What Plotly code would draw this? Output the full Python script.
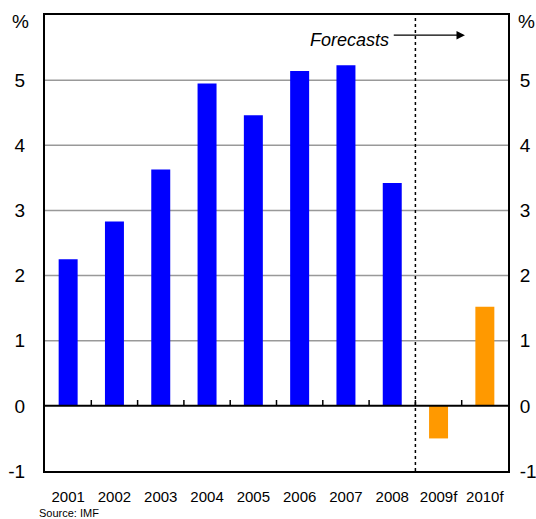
import plotly.graph_objects as go

years = ["2001", "2002", "2003", "2004", "2005", "2006", "2007", "2008", "2009f", "2010f"]
growth = [2.25, 2.83, 3.63, 4.95, 4.46, 5.14, 5.23, 3.42, -0.5, 1.52]
colors = ["#0000FF"] * 8 + ["#FF9900"] * 2
y_ticks = [-1, 0, 1, 2, 3, 4, 5]
y_tick_text = ["-1", "0", "1", "2", "3", "4", "5"]

FONT = "Liberation Sans, Arial, sans-serif"

fig = go.Figure()
fig.add_trace(go.Bar(x=list(range(len(years))), y=growth, marker=dict(color=colors, line=dict(width=0)),
                     showlegend=False))
fig.add_trace(go.Scatter(x=[0], y=[None], yaxis="y2", showlegend=False, hoverinfo="skip"))

shapes = []
for v in [1, 2, 3, 4, 5]:
    shapes.append(dict(type="line", xref="paper", x0=0, x1=1, yref="y", y0=v, y1=v,
                       line=dict(color="#999999", width=1.5), layer="below"))
shapes.append(dict(type="line", xref="paper", x0=0, x1=1, yref="y", y0=0, y1=0,
                   line=dict(color="black", width=2)))
for i in range(len(years) - 1):
    shapes.append(dict(type="line", xref="x", x0=i + 0.5, x1=i + 0.5, yref="y", y0=0, y1=0.09,
                       line=dict(color="black", width=1.5)))
shapes.append(dict(type="line", xref="x", x0=7.5, x1=7.5, yref="paper", y0=0, y1=1,
                   line=dict(color="black", width=1.5, dash="dot")))

fig.update_layout(
    width=536, height=519,
    margin=dict(l=45, r=28, t=15, b=48, autoexpand=False),
    paper_bgcolor="white", plot_bgcolor="white",
    bargap=0.59,
    font=dict(family=FONT, color="black"),
    shapes=shapes,
    xaxis=dict(range=[-0.5, 9.5], tickmode="array", tickvals=list(range(len(years))), ticktext=years,
               showgrid=False, zeroline=False, showline=True, linecolor="black", linewidth=2, mirror=True,
               ticks="outside", ticklen=11, tickcolor="rgba(0,0,0,0)", tickfont=dict(size=15, family=FONT),
               automargin=False),
    yaxis=dict(range=[-1, 6], tickvals=y_ticks, ticktext=y_tick_text, showgrid=False, zeroline=False,
               showline=True, linecolor="black", linewidth=2, automargin=False,
               ticks="outside", ticklen=14, tickcolor="rgba(0,0,0,0)", tickfont=dict(size=19, family=FONT)),
    yaxis2=dict(range=[-1, 6], tickvals=y_ticks, ticktext=y_tick_text, overlaying="y", side="right",
                showgrid=False, zeroline=False, showline=True, linecolor="black", linewidth=2, automargin=False,
                ticks="outside", ticklen=6, tickcolor="rgba(0,0,0,0)", tickfont=dict(size=19, family=FONT)),
    annotations=[
        dict(text="%", xref="paper", yref="paper", x=-0.03, y=0.985, xanchor="right", yanchor="middle",
             showarrow=False, font=dict(size=19)),
        dict(text="%", xref="paper", yref="paper", x=1.018, y=0.985, xanchor="left", yanchor="middle",
             showarrow=False, font=dict(size=19)),
        dict(text="<i>Forecasts</i>", xref="x", yref="y", x=6.98, y=5.62, xanchor="right", yanchor="middle",
             showarrow=False, font=dict(size=18)),
        dict(text="", xref="x", yref="y", x=8.57, y=5.69, ax=7.0, ay=5.69, axref="x", ayref="y",
             showarrow=True, arrowhead=2, arrowsize=1.3, arrowwidth=1.3, arrowcolor="black"),
        dict(text="Source: IMF", xref="paper", yref="paper", x=-0.018, y=-0.074, xanchor="left", yanchor="top",
             showarrow=False, font=dict(size=11)),
    ],
)

fig.write_html("out.html")
